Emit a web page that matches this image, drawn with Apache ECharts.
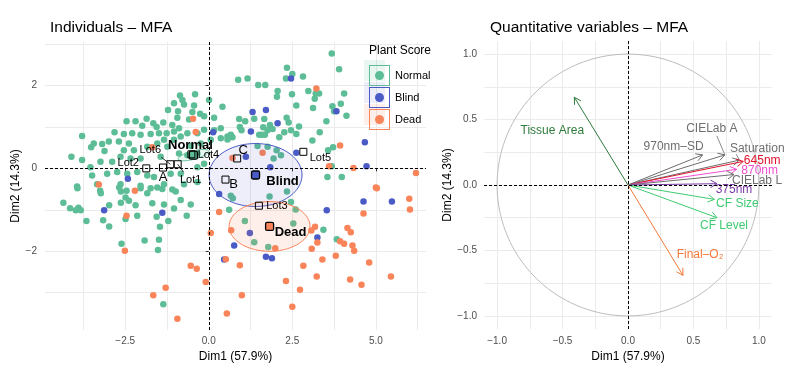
<!DOCTYPE html>
<html><head><meta charset="utf-8">
<script src="https://cdn.jsdelivr.net/npm/echarts@6/dist/echarts.min.js"></script>
<style>html,body{margin:0;padding:0;background:#fff}#c{width:800px;height:370px}</style>
</head><body><div id="c"></div>
<script>
// ---------------- DATA ----------------
const groupNames = ['Normal', 'Blind', 'Dead'];

const normalPts = [
[-0.41,1.79],[-0.86,1.76],[-0.79,1.65],[-1.04,1.57],[-0.74,1.54],[-0.44,1.52],[-1.22,1.41],[-0.92,1.38],[-0.49,1.36],[-0.26,1.32],
[-0.14,1.26],[-0.59,1.18],[-0.94,1.22],[0.01,1.65],[0.41,1.49],[0.16,1.22],[-2.46,1.14],[-2.19,1.14],[-1.86,1.20],[-1.66,1.09],
[-1.99,1.03],[-1.56,1.00],[-1.36,1.11],[-1.09,1.05],[-0.89,0.97],[-1.04,0.89],[-1.26,0.85],[-1.49,0.85],[-1.74,0.83],[-2.04,0.81],
[-2.29,0.85],[-2.54,0.83],[-2.82,0.87],[-2.39,0.60],[-2.69,0.65],[-2.99,0.65],[-3.19,0.59],[-3.44,0.60],[-3.79,0.78],[-4.11,0.28],
[-3.52,0.51],[-3.12,0.42],[-2.54,0.44],[-2.24,0.44],[-1.84,0.52],[-1.54,0.60],[-1.34,0.69],[-1.24,0.52],[-1.04,0.69],[-0.84,0.77],
[-0.64,0.85],[-0.34,0.85],[-0.14,0.93],[0.16,0.92],[0.36,0.97],[0.56,0.77],[0.36,0.73],[0.06,0.69],[-0.24,0.60],[-0.54,0.54],
[-0.34,0.36],[-0.64,0.32],[-0.89,0.36],[-1.44,0.28],[-2.04,0.24],[-2.34,0.24],[-2.64,0.28],[-2.89,0.16],[-3.24,0.16],[-3.54,0.03],
[-3.79,0.20],[-3.04,-0.13],[-2.74,-0.09],[-2.44,-0.13],[-2.14,-0.09],[-1.84,-0.17],[-1.64,-0.21],[-1.14,-0.13],[-0.84,-0.13],[-0.34,0.03],
[-0.14,0.11],[-3.49,-0.17],[-3.94,-0.44],[-3.34,-0.38],[-2.64,-0.38],[-2.04,-0.42],[-1.34,-0.38],[-0.74,-0.38],[-0.34,-0.33],
[3.68,2.77],[3.90,2.39],[2.34,2.43],[2.50,2.28],[2.82,2.22],[2.31,2.17],[1.16,2.17],[0.88,2.14],[1.48,2.01],[1.69,2.01],
[2.06,1.87],[2.04,1.73],[2.49,1.79],[2.98,1.87],[3.20,1.81],[3.30,1.81],[3.17,1.68],[2.62,1.52],[3.12,1.46],[4.05,1.81],
[3.95,1.56],[3.70,1.50],[3.75,1.38],[4.12,1.27],[3.52,1.14],[0.91,1.19],[1.09,1.14],[1.36,1.20],[1.66,1.19],[1.83,1.05],
[1.63,0.99],[1.91,0.95],[1.76,0.92],[1.51,0.81],[1.59,0.81],[1.68,0.81],[2.11,0.75],[2.26,0.87],[2.46,0.92],[2.33,1.22],
[2.39,1.11],[2.70,1.01],[2.62,0.83],[3.32,0.87],[3.10,0.67],[3.72,0.51],[3.57,0.44],[0.93,1.00],[0.98,0.92],[0.66,0.81],
[0.71,0.75],[0.56,0.70],[2.03,0.44],[2.16,0.32],[1.94,0.24],[1.46,0.54],[1.76,0.52],[3.55,-0.21],[3.98,-0.21],[3.68,0.05],
[-3.93,-0.48],[-3.25,-0.54],[-3.23,-0.60],[-2.68,-0.46],[-2.46,-0.54],[-2.04,-0.48],[-1.74,-0.48],[-1.54,-0.46],[-1.39,-0.50],[-1.09,-0.51],
[-0.99,-0.56],[-1.84,-0.60],[-2.63,-0.56],[-2.49,-0.70],[-2.39,-0.78],[-2.63,-0.83],[-2.98,-0.89],[-2.19,-0.89],[-2.14,-1.14],[-1.69,-0.84],
[-1.34,-0.87],[-1.04,-0.97],[-0.84,-0.76],[-0.54,-0.87],[-0.66,-1.14],[-1.21,-1.27],[-1.56,-1.17],[-1.46,-1.41],[-2.49,-1.22],[-3.16,-1.25],
[-2.98,-1.40],[-3.66,-1.27],[-4.35,-0.83],[-4.15,-0.96],[-3.98,-1.01],[-3.90,-0.95],[-3.83,-1.01],[-1.92,-1.74],[-1.49,-1.72],[-1.52,-1.97],
[-2.61,-1.82],[-1.36,-3.28],[0.66,-0.66],[0.72,-0.72],[1.82,-0.68],[2.34,-0.56],[2.46,-0.81],[1.08,-1.27],[2.53,-1.33],[3.43,-1.48],
[3.83,-1.71],[1.36,-1.78],[1.78,-1.90],[0.61,-1.00],[2.60,-0.99]
];

const blindPts = [
[0.13,0.87],[-2.42,-0.25],[2.46,2.17],[1.71,1.41],[1.31,1.36],[2.06,1.09],[1.26,0.89],[3.82,1.38],[4.67,0.63],[2.62,0.38],
[1.84,0.03],[1.11,0.28],[4.72,0.05],[-3.13,-1.01],[-1.39,-1.07],[0.31,-0.62],[4.63,-0.80],[5.48,-0.80],[3.53,-1.01],[1.23,-1.56],
[0.76,-1.86],[0.46,-2.20],[1.71,-2.13],[1.89,-2.17],[3.25,-1.67]
];

const deadPts = [
[-0.47,1.20],[-0.39,0.88],[-1.69,0.51],[-3.29,-0.39],[3.22,1.93],[1.61,0.38],[3.93,0.55],[3.60,0.05],[4.33,0.01],[6.20,-0.11],
[5.00,-0.46],[0.71,0.25],[-2.21,-0.54],[-2.46,-1.14],[-2.51,-1.99],[-0.54,-2.35],[-0.36,-2.42],[-0.09,-2.74],[-1.29,-2.88],[-1.66,-3.06],
[-0.94,-3.63],[0.06,-1.56],[0.31,-1.05],[0.93,-2.34],[0.99,-3.06],[0.54,-3.50],[1.99,-1.93],[2.31,-2.72],[2.50,-3.34],[2.73,-2.93],
[2.83,-2.35],[3.08,-1.94],[3.18,-1.41],[3.07,-1.50],[3.25,-1.79],[3.23,-2.61],[3.40,-2.20],[3.80,-2.11],[3.93,-1.76],[4.05,-1.82],
[4.15,-1.44],[4.25,-1.54],[4.30,-1.86],[4.35,-1.99],[4.23,-2.68],[4.57,-2.81],[4.80,-2.27],[5.45,-2.61],[4.63,-1.09],[5.03,-0.48],
[6.00,-0.73],[6.02,-0.99],[0.51,-2.19],[0.67,-1.49]
];

// group means and their confidence ellipses (semi-axes in data units, tilt in degrees)
const groupCentroids = [[-0.46,0.32],[1.40,-0.16],[1.82,-1.40]];
const ellipseRadii   = [[0.47,0.10],[1.39,0.76],[1.21,0.60]];
const ellipseTilt    = [15, 0, 0];

// supplementary individuals
const supNames = ['Lot1','Lot2','Lot3','Lot4','Lot5','Lot6','A','B','C'];
const supPts   = [[-0.93,0.10],[-1.87,0.00],[1.50,-0.90],[-0.52,0.34],[2.83,0.40],[-1.15,0.10],[-1.37,0.02],[0.50,-0.27],[0.85,0.24]];

// quantitative variables (correlation circle)
const varNames = ['Tissue Area','970nm–SD','CIELab A','Saturation','645nm','870nm','CIELab L','375nm','CF Size','CF Level','Final–O₂'];
const varDim1  = [-0.41, 0.57, 0.74, 0.85, 0.88, 0.83, 0.81, 0.68, 0.66, 0.68, 0.42];
const varDim2  = [ 0.67, 0.23, 0.23, 0.19, 0.18, 0.12, 0.08, 0.01,-0.11,-0.25,-0.69];

// tick labels
const leftXTicks  = [-2.5, 0, 2.5, 5];
const leftYTicks  = [-2, 0, 2];
const rightTicks  = [-1, -0.5, 0, 0.5, 1];

// ---------------- STYLE ----------------
const FONT = '"Liberation Sans", Arial, Helvetica, sans-serif';
const colors = {Normal:'#5dbd96', Blind:'#4a5bc6', Dead:'#f9845a'};
const fills  = {Normal:'rgba(93,189,150,0.13)', Blind:'rgba(74,91,198,0.10)', Dead:'rgba(249,132,90,0.13)'};
const gridColor = '#ebebeb';
const leftXGrid = [-3.75,-2.5,-1.25,0,1.25,2.5,3.75,5,6.25];
const leftYGrid = [-3,-2,-1,0,1,2,3];
const rightGrid = [-1,-0.75,-0.5,-0.25,0,0.25,0.5,0.75,1];

const annStyle = {
  Normal:{dx:-3, dy:-10, size:13, bold:true},
  Blind:{dx:27, dy:6, size:13, bold:true},
  Dead:{dx:21, dy:6, size:13, bold:true},
  Lot1:{dx:13, dy:16, size:11, leader:[6,8]},
  Lot2:{dx:-18, dy:-5, size:11},
  Lot3:{dx:18, dy:0, size:11},
  Lot4:{dx:17, dy:1, size:11},
  Lot5:{dx:17, dy:6, size:11},
  Lot6:{dx:-20, dy:-14, size:11, leader:[-9,-7]},
  A:{dx:0, dy:10, size:13},
  B:{dx:8, dy:5, size:13},
  C:{dx:6, dy:-8, size:13}
};
const varStyle = {
  'Tissue Area':{color:'#2e7b3c', dx:-22, dy:33},
  '970nm–SD':{color:'#6e6e6e', dx:-29, dy:-8},
  'CIELab A':{color:'#6e6e6e', dx:-13, dy:-26, leader:[-8,-19]},
  'Saturation':{color:'#6e6e6e', dx:18, dy:-11, leader:[-3,-6]},
  '645nm':{color:'#e3112b', dx:19, dy:-1},
  '870nm':{color:'#f04fd0', dx:23, dy:1},
  'CIELab L':{color:'#6e6e6e', dx:23, dy:6},
  '375nm':{color:'#7a3aa8', dx:17, dy:6},
  'CF Size':{color:'#3fcb72', dx:23, dy:4},
  'CF Level':{color:'#3fcb72', dx:7, dy:8},
  'Final–O₂':{color:'#f4793a', dx:17, dy:-21}
};

function fmt(v, d){ return v.toFixed(d).replace('-', '−'); }

const chart = echarts.init(document.getElementById('c'), null, {renderer:'canvas', width:800, height:370});

const axisNameStyle = {color:'#000', fontSize:12, fontFamily:FONT};
const tickLabelStyle = {color:'#4d4d4d', fontSize:10, fontFamily:FONT};

const iconPath = 'path://M0,0H21V21H0Z M1,1V20H20V1Z M6,10.5A4.5,4.5,0,1,0,15,10.5A4.5,4.5,0,1,0,6,10.5Z';

const option = {
  animation:false,
  backgroundColor:'#fff',
  textStyle:{fontFamily:FONT},
  title:[
    {text:'Individuals – MFA', left:45, top:15, textStyle:{fontSize:15.5, fontWeight:'normal', color:'#000', fontFamily:FONT}},
    {text:'Quantitative variables – MFA', left:485, top:15, textStyle:{fontSize:15.5, fontWeight:'normal', color:'#000', fontFamily:FONT}},
    {text:'Plant Score', left:364, top:40, textStyle:{fontSize:12, fontWeight:'normal', color:'#000', fontFamily:FONT}}
  ],
  legend:{
    data:groupNames.map(n=>({name:n, itemStyle:{color:colors[n], borderWidth:0, opacity:1}})),
    orient:'vertical', left:364, top:60, itemWidth:21, itemHeight:21, itemGap:1,
    icon:iconPath, itemStyle:{borderWidth:0}, textStyle:{fontSize:11, color:'#000', fontFamily:FONT}, selectedMode:false, z:6
  },
  graphic: groupNames.map((n,i)=>({type:'rect', left:364, top:60+i*22, z:5, shape:{width:21,height:21}, style:{fill:fills[n]}})),
  grid:[
    {left:45, top:42, width:381, height:288},
    {left:484, top:41, width:288, height:288}
  ],
  xAxis:[
    {gridIndex:0, type:'value', min:-4.9, max:6.5, position:'bottom',
     axisLine:{show:false}, axisTick:{show:false, customValues:leftXGrid},
     splitLine:{show:true, lineStyle:{color:gridColor, width:1}},
     axisLabel:{customValues:leftXTicks, formatter:v=>fmt(v,1), margin:6, ...tickLabelStyle},
     name:'Dim1 (57.9%)', nameLocation:'middle', nameGap:18, nameTextStyle:axisNameStyle},
    {gridIndex:0, type:'value', min:-4.9, max:6.5, position:'bottom',
     axisLine:{show:false}, axisTick:{show:true, customValues:leftXTicks, length:3, lineStyle:{color:'#333'}},
     splitLine:{show:false}, axisLabel:{show:false}},
    {gridIndex:1, type:'value', min:-1.1, max:1.1, position:'bottom',
     axisLine:{show:false}, axisTick:{show:false, customValues:rightGrid},
     splitLine:{show:true, lineStyle:{color:gridColor, width:1}},
     axisLabel:{customValues:rightTicks, formatter:v=>fmt(v,1), margin:7, ...tickLabelStyle},
     name:'Dim1 (57.9%)', nameLocation:'middle', nameGap:19, nameTextStyle:axisNameStyle}
  ],
  yAxis:[
    {gridIndex:0, type:'value', min:-3.9, max:3.05, position:'left',
     axisLine:{show:false}, axisTick:{show:false, customValues:leftYGrid},
     splitLine:{show:true, lineStyle:{color:gridColor, width:1}},
     axisLabel:{customValues:leftYTicks, formatter:v=>fmt(v,0), margin:8, ...tickLabelStyle},
     name:'Dim2 (14.3%)', nameLocation:'middle', nameGap:23, nameTextStyle:axisNameStyle},
    {gridIndex:0, type:'value', min:-3.9, max:3.05, position:'left',
     axisLine:{show:false}, axisTick:{show:true, customValues:leftYTicks, length:3, lineStyle:{color:'#333'}},
     splitLine:{show:false}, axisLabel:{show:false}},
    {gridIndex:1, type:'value', min:-1.1, max:1.1, position:'left',
     axisLine:{show:false}, axisTick:{show:false, customValues:rightGrid},
     splitLine:{show:true, lineStyle:{color:gridColor, width:1}},
     axisLabel:{customValues:rightTicks, formatter:v=>fmt(v,1), margin:7, ...tickLabelStyle},
     name:'Dim2 (14.3%)', nameLocation:'middle', nameGap:27, nameTextStyle:axisNameStyle}
  ],
  series:[]
};

const zeroLines = {silent:true, symbol:'none', label:{show:false}, animation:false,
  lineStyle:{color:'#000', type:[3,2], width:1}, data:[{xAxis:0},{yAxis:0}]};

// individuals
[normalPts, blindPts, deadPts].forEach((pts, i)=>{
  const n = groupNames[i];
  option.series.push({
    name:n, type:'scatter', xAxisIndex:0, yAxisIndex:0, data:pts, symbolSize:6.5, z:2,
    itemStyle:{color:colors[n], opacity:1},
    markLine: i===0 ? zeroLines : undefined
  });
});

// confidence ellipses
option.series.push({
  type:'custom', xAxisIndex:0, yAxisIndex:0, z:3, silent:true,
  data: groupNames.map((n,i)=>[groupCentroids[i][0], groupCentroids[i][1], ellipseRadii[i][0], ellipseRadii[i][1], ellipseTilt[i]]),
  encode:{x:0, y:1},
  renderItem:(params, api)=>{
    const cx = api.value(0), cy = api.value(1);
    const c = api.coord([cx, cy]);
    const s = api.size([api.value(2), api.value(3)], [cx, cy]);
    const ang = -api.value(4)*Math.PI/180;
    const pts = [];
    for (let k=0;k<=90;k++){
      const t = k/90*2*Math.PI;
      const ex = s[0]*Math.cos(t), ey = s[1]*Math.sin(t);
      pts.push([c[0]+ex*Math.cos(ang)-ey*Math.sin(ang), c[1]+ex*Math.sin(ang)+ey*Math.cos(ang)]);
    }
    const n = groupNames[params.dataIndex];
    return {type:'polygon', shape:{points:pts}, style:{fill:fills[n], stroke:colors[n], lineWidth:1}};
  }
});

// annotation markers (group means + supplementary individuals)
function annRender(names, filled){
  return (params, api)=>{
    const n = names[params.dataIndex];
    const p = api.coord([api.value(0), api.value(1)]);
    const st = annStyle[n];
    const sz = filled ? 8 : 7;
    const kids = [];
    if (st.leader){
      kids.push({type:'line', shape:{x1:p[0], y1:p[1], x2:p[0]+st.leader[0], y2:p[1]+st.leader[1]}, style:{stroke:'#000', lineWidth:0.8}});
    }
    kids.push({type:'rect', shape:{x:p[0]-sz/2, y:p[1]-sz/2, width:sz, height:sz, r:filled?1.5:0},
      style:{fill: filled ? colors[n] : 'rgba(0,0,0,0)', stroke:'#000', lineWidth: filled?1.3:1}});
    kids.push({type:'text', x:p[0]+st.dx, y:p[1]+st.dy,
      style:{text:n, fill:'#000', fontSize:st.size, fontWeight: st.bold?'bold':'normal', fontFamily:FONT, align:'center', verticalAlign:'middle'}});
    return {type:'group', children:kids};
  };
}
option.series.push({
  type:'custom', xAxisIndex:0, yAxisIndex:0, z:4, silent:true, data:groupCentroids, encode:{x:0,y:1},
  renderItem: annRender(groupNames, true)
});
option.series.push({
  type:'custom', xAxisIndex:0, yAxisIndex:0, z:5, silent:true, data:supPts, encode:{x:0,y:1},
  renderItem: annRender(supNames, false)
});

// correlation circle
option.series.push({
  type:'custom', xAxisIndex:2, yAxisIndex:2, z:2, silent:true, data:[[0,0]], encode:{x:0,y:1},
  renderItem:(params, api)=>{
    const pts = [];
    for (let k=0;k<=180;k++){ const t=k/180*2*Math.PI; pts.push(api.coord([Math.cos(t), Math.sin(t)])); }
    return {type:'polyline', shape:{points:pts}, style:{stroke:'#bdbdbd', fill:null, lineWidth:1}};
  },
  markLine: zeroLines
});

// variable arrows
option.series.push({
  type:'custom', xAxisIndex:2, yAxisIndex:2, z:3, silent:true,
  data: varNames.map((n,i)=>[varDim1[i], varDim2[i]]), encode:{x:0,y:1},
  renderItem:(params, api)=>{
    const n = varNames[params.dataIndex];
    const st = varStyle[n];
    const o = api.coord([0,0]);
    const t = api.coord([api.value(0), api.value(1)]);
    const ang = Math.atan2(t[1]-o[1], t[0]-o[0]);
    const L = 7.5, a = Math.PI/6;
    const p1 = [t[0]-L*Math.cos(ang-a), t[1]-L*Math.sin(ang-a)];
    const p2 = [t[0]-L*Math.cos(ang+a), t[1]-L*Math.sin(ang+a)];
    const kids = [
      {type:'line', shape:{x1:o[0], y1:o[1], x2:t[0], y2:t[1]}, style:{stroke:st.color, lineWidth:1}},
      {type:'polyline', shape:{points:[p1, t, p2]}, style:{stroke:st.color, fill:null, lineWidth:1}}
    ];
    if (st.leader){
      kids.push({type:'line', shape:{x1:t[0], y1:t[1], x2:t[0]+st.leader[0], y2:t[1]+st.leader[1]}, style:{stroke:st.color, lineWidth:0.8}});
    }
    kids.push({type:'text', x:t[0]+st.dx, y:t[1]+st.dy,
      style:{text:n, fill:st.color, fontSize:12, fontFamily:FONT, align:'center', verticalAlign:'middle'}});
    return {type:'group', children:kids};
  }
});

chart.setOption(option);
</script>
</body></html>
